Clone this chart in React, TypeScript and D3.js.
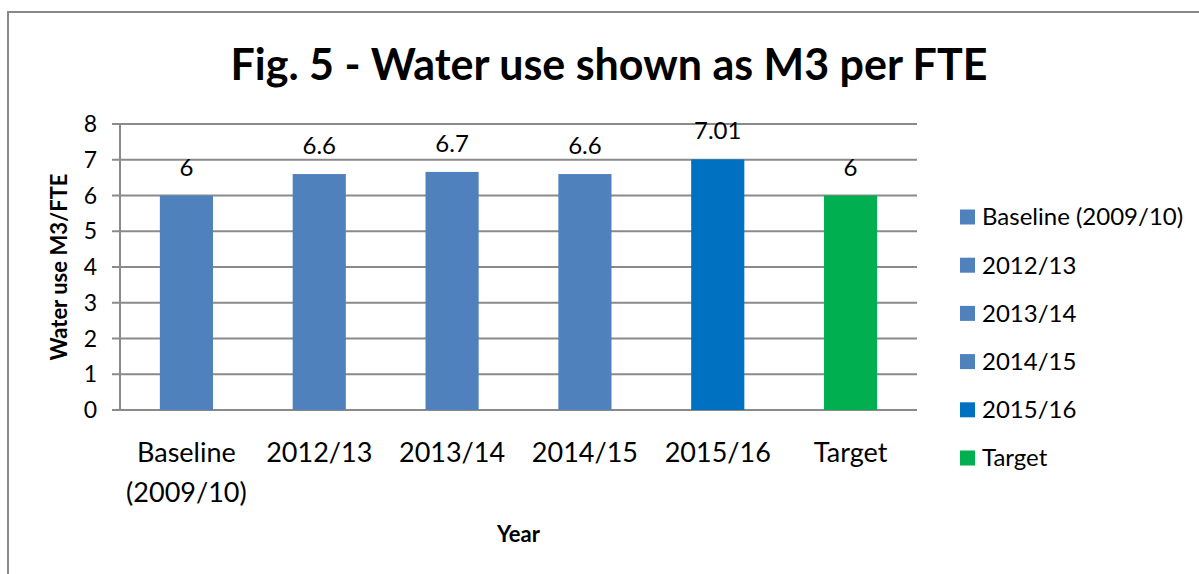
import React from 'react';
import * as d3 from 'd3';

const categories = ['Baseline (2009/10)', '2012/13', '2013/14', '2014/15', '2015/16', 'Target'];
const axisLabels = [['Baseline', '(2009/10)'], ['2012/13'], ['2013/14'], ['2014/15'], ['2015/16'], ['Target']];
const values = [6, 6.6, 6.66, 6.6, 7.01, 6];
const valueLabels = ['6', '6.6', '6.7', '6.6', '7.01', '6'];
const colors = ['#4F81BD', '#4F81BD', '#4F81BD', '#4F81BD', '#0070C0', '#00B050'];
const yTicks = [0, 1, 2, 3, 4, 5, 6, 7, 8];

const FONT = 'Lato, "Open Sans", sans-serif';

const App = () => {
  const width = 1199;
  const height = 574;
  const plot = { left: 120, right: 917, top: 124, bottom: 410 };

  const x = d3
    .scaleBand<string>()
    .domain(categories)
    .range([plot.left, plot.right])
    .paddingInner(0.6)
    .paddingOuter(0.3);

  const y = d3.scaleLinear().domain([0, 8]).range([plot.bottom, plot.top]);

  const legendY = d3.scalePoint<string>().domain(categories).range([217, 458]);

  return (
    <svg width={width} height={height} style={{ display: 'block', position: 'absolute', left: 0, top: 0 }}>
      <rect x={0} y={0} width={width} height={height} fill="#fff" />
      {/* chart border, runs off the right and bottom */}
      <rect x={8} y={12} width={1300} height={700} fill="none" stroke="#888" strokeWidth={2} />

      <text
        x={609}
        y={80}
        textAnchor="middle"
        fontFamily={FONT}
        fontWeight="bold"
        fontSize={43}
        fill="#000"
      >
        Fig. 5 - Water use shown as M3 per FTE
      </text>

      {/* gridlines + tick marks */}
      {yTicks.map((t) => (
        <line
          key={t}
          x1={plot.left - 8}
          x2={plot.right}
          y1={y(t)}
          y2={y(t)}
          stroke="#8a8a8a"
          strokeWidth={2}
        />
      ))}
      <line x1={plot.left} x2={plot.left} y1={plot.top} y2={plot.bottom} stroke="#8a8a8a" strokeWidth={2} />

      {yTicks.map((t) => (
        <text
          key={t}
          x={97}
          y={y(t)}
          dy="0.35em"
          textAnchor="end"
          fontFamily={FONT}
          fontSize={23}
          fill="#000"
        >
          {t}
        </text>
      ))}

      {categories.map((c, i) => (
        <g key={c}>
          <rect
            x={x(c)}
            y={y(values[i])}
            width={x.bandwidth()}
            height={y(0) - y(values[i])}
            fill={colors[i]}
          />
          <text
            x={(x(c) as number) + x.bandwidth() / 2}
            y={y(values[i]) - 20}
            textAnchor="middle"
            fontFamily={FONT}
            fontSize={24}
            fill="#000"
          >
            {valueLabels[i]}
          </text>
          {axisLabels[i].map((line, j) => (
            <text
              key={j}
              x={(x(c) as number) + x.bandwidth() / 2}
              y={462 + j * 40}
              textAnchor="middle"
              fontFamily={FONT}
              fontSize={27}
              fill="#000"
            >
              {line}
            </text>
          ))}
        </g>
      ))}

      <text
        transform={`translate(67,${(plot.top + plot.bottom) / 2}) rotate(-90)`}
        textAnchor="middle"
        fontFamily={FONT}
        fontWeight="bold"
        fontSize={22}
        fill="#000"
      >
        Water use M3/FTE
      </text>

      <text
        x={(plot.left + plot.right) / 2}
        y={542}
        textAnchor="middle"
        fontFamily={FONT}
        fontWeight="bold"
        fontSize={22}
        fill="#000"
      >
        Year
      </text>

      {categories.map((c, i) => (
        <g key={c} transform={`translate(960,${legendY(c)})`}>
          <rect x={0} y={-7.5} width={15} height={15} fill={colors[i]} />
          <text x={22} y={0} dy="0.35em" fontFamily={FONT} fontSize={24} fill="#000">
            {c}
          </text>
        </g>
      ))}
    </svg>
  );
};

export default App;
